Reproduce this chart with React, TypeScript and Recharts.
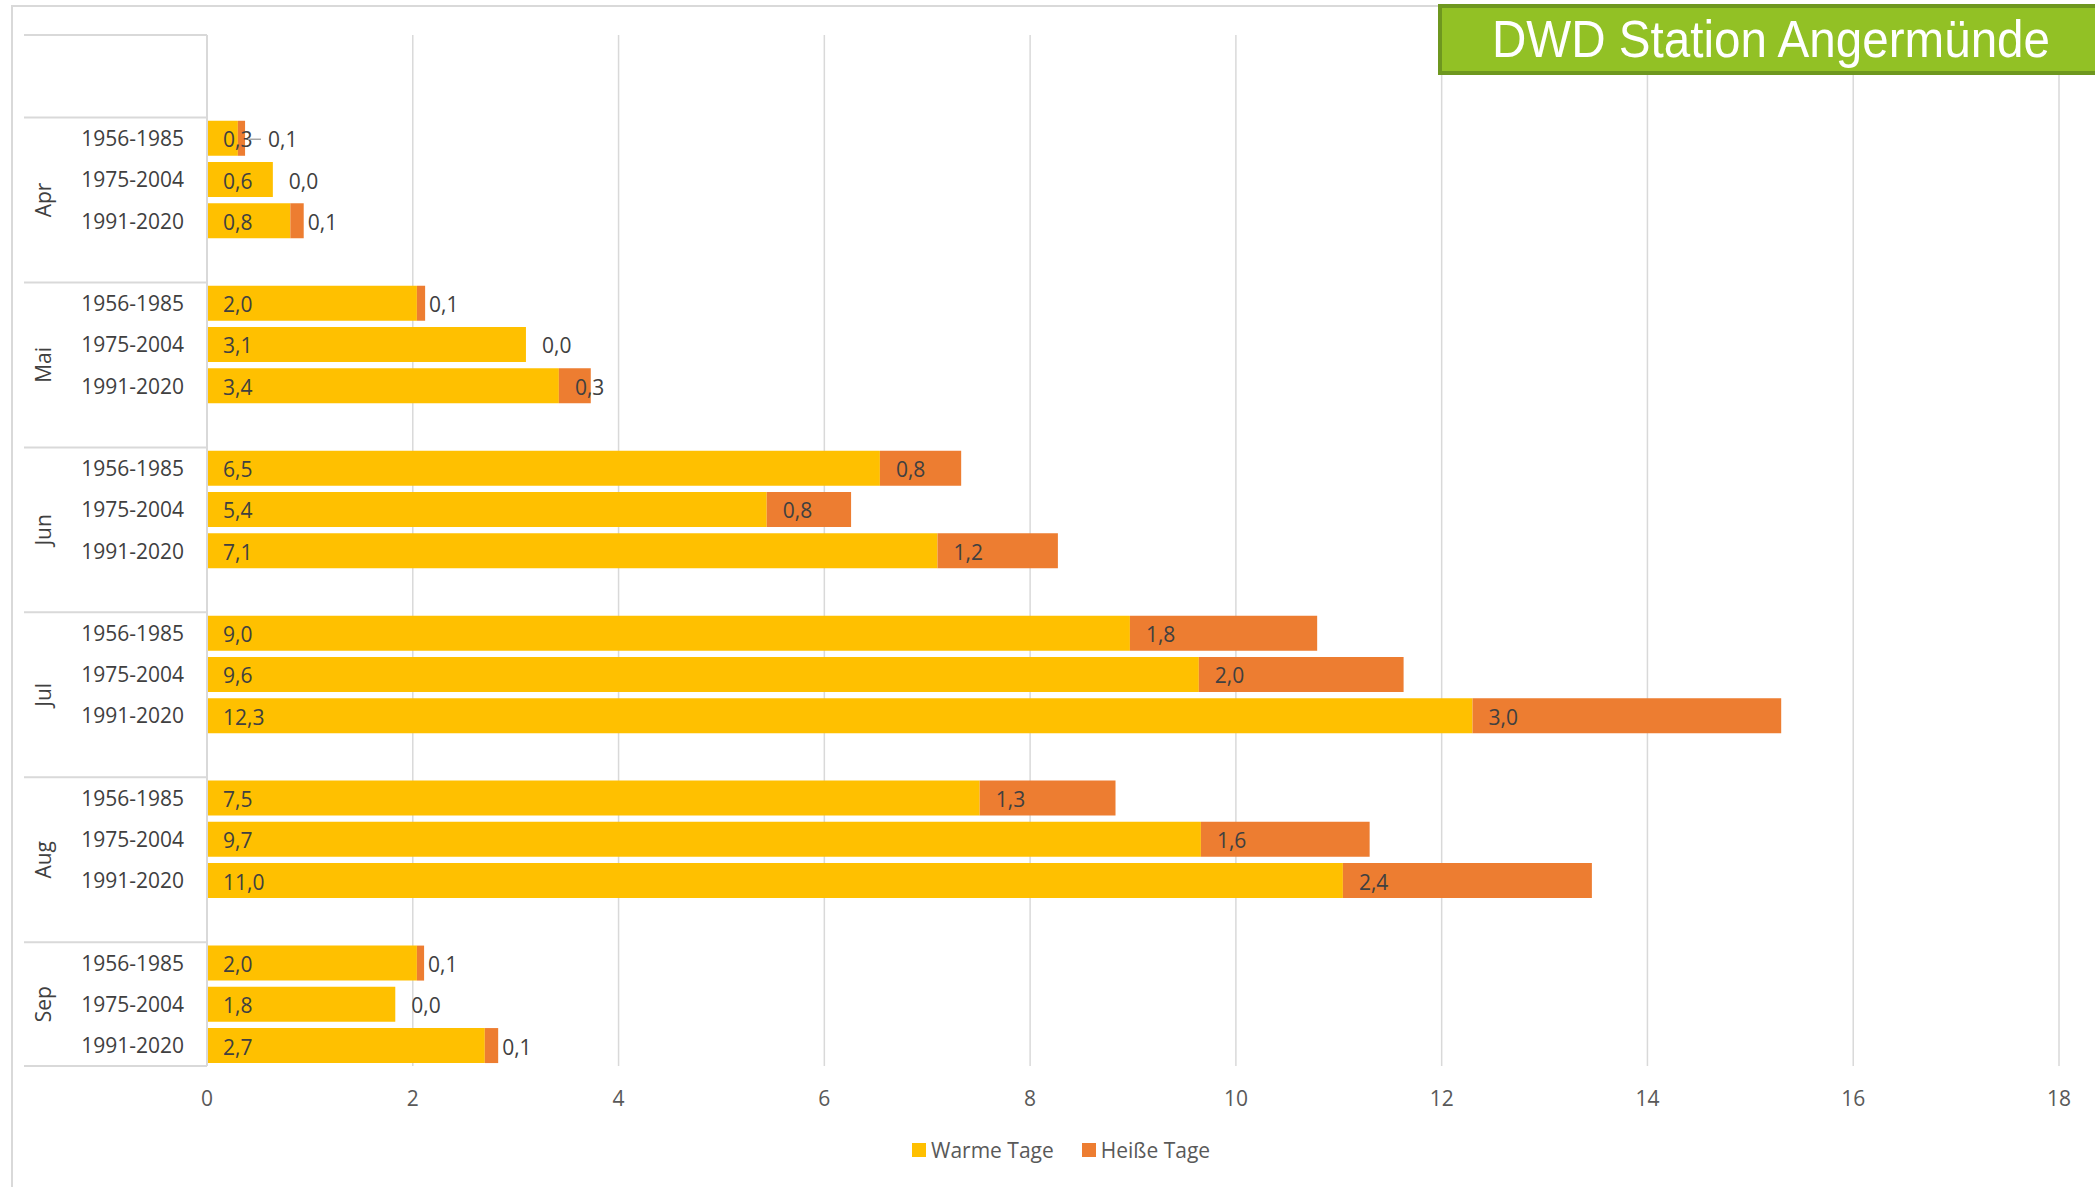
import { Bar, BarChart, CartesianGrid, LabelList, Legend, XAxis, YAxis } from 'recharts';

const months = ['Apr', 'Mai', 'Jun', 'Jul', 'Aug', 'Sep'];
const periods = ['1956-1985', '1975-2004', '1991-2020'];
// Tage je Monat, Reihenfolge wie periods
const warmeTage = [
  [0.3, 0.64, 0.81],
  [2.04, 3.1, 3.42],
  [6.54, 5.44, 7.1],
  [8.97, 9.64, 12.3],
  [7.51, 9.66, 11.04],
  [2.04, 1.83, 2.7],
];
const heisseTage = [
  [0.07, 0, 0.13],
  [0.08, 0, 0.31],
  [0.79, 0.82, 1.17],
  [1.82, 1.99, 3.0],
  [1.32, 1.64, 2.42],
  [0.07, 0, 0.13],
];
const xTicks = [0, 2, 4, 6, 8, 10, 12, 14, 16, 18];

const W = 2095;
const H = 1187;
const PLOT_LEFT = 207;
const PLOT_RIGHT = 2059;
const PLOT_TOP = 35;
const PLOT_BOTTOM = 1066;
const LABEL_LEFT = 24;
const FONT = '"Open Sans", sans-serif';
const TEXT = '#404040';
const GRID = '#d9d9d9';
const PX_PER_DAY = (PLOT_RIGHT - PLOT_LEFT) / 18;

type Row = {
  key: string;
  month?: string;
  period?: string;
  warm: number | null;
  hot: number | null;
  first?: boolean;
  span?: number;
};

const rows: Row[] = [
  { key: 'top-0', warm: null, hot: null },
  { key: 'top-1', warm: null, hot: null },
];
months.forEach((m, mi) => {
  periods.forEach((p, pi) => {
    rows.push({
      key: `${m}-${p}`,
      month: m,
      period: p,
      warm: warmeTage[mi][pi],
      hot: heisseTage[mi][pi],
      first: pi === 0,
      span: mi === months.length - 1 ? 3 : 4,
    });
  });
  if (mi < months.length - 1) rows.push({ key: `gap-${m}`, warm: null, hot: null });
});
const rowByKey = new Map(rows.map((r, i) => [r.key, { ...r, idx: i }]));
const ROW = (PLOT_BOTTOM - PLOT_TOP) / rows.length;

const fmt = (v: number) => v.toFixed(1).replace('.', ',');

function CategoryTick(props: any) {
  const { y, payload } = props;
  const row = rowByKey.get(payload.value);
  if (!row) return null;
  const top = y - ROW / 2;
  const mid = top + ((row.span ?? 3) * ROW) / 2;
  return (
    <g>
      {(row.idx === 0 || row.first) && (
        <line x1={LABEL_LEFT} x2={PLOT_LEFT} y1={top} y2={top} stroke={GRID} strokeWidth={2} />
      )}
      {row.idx === rows.length - 1 && (
        <line x1={LABEL_LEFT} x2={PLOT_LEFT} y1={y + ROW / 2} y2={y + ROW / 2} stroke={GRID} strokeWidth={2} />
      )}
      {row.period && (
        <text x={184} y={y} textAnchor="end" dominantBaseline="central" fontFamily={FONT} fontSize={21} fill={TEXT}>
          {row.period}
        </text>
      )}
      {row.first && (
        <text
          x={43}
          y={mid}
          transform={`rotate(-90 43 ${mid})`}
          textAnchor="middle"
          dominantBaseline="central"
          fontFamily={FONT}
          fontSize={21}
          fill={TEXT}
        >
          {row.month}
        </text>
      )}
    </g>
  );
}

function ValueTick(props: any) {
  const { x, payload } = props;
  return (
    <text x={x} y={1098} textAnchor="middle" dominantBaseline="central" fontFamily={FONT} fontSize={21} fill="#595959">
      {payload.value}
    </text>
  );
}

// draws both value labels of a row, placed from the warm bar geometry
function RowLabels(props: any) {
  const { x, y, width, height, value } = props;
  const row = rowByKey.get(value);
  if (!row || row.warm == null || row.hot == null) return null;
  const cy = y + height / 2 + 1;
  const warmText = fmt(row.warm);
  const warmLabelEnd = x + 16 + warmText.length * 10;
  const hotX = x + width;
  const hotW = row.hot * PX_PER_DAY;
  let lx = hotX + 16;
  let leader: [number, number] | null = null;
  if (hotW > 0.5 && hotW < 20) {
    lx = hotX + hotW + 4;
    if (lx < warmLabelEnd + 2) {
      leader = [hotX + hotW + 3, warmLabelEnd + 8];
      lx = warmLabelEnd + 15;
    }
  }
  return (
    <g>
      <text x={x + 16} y={cy} dominantBaseline="central" fontFamily={FONT} fontSize={21} fill={TEXT}>
        {warmText}
      </text>
      {leader && <line x1={leader[0]} x2={leader[1]} y1={cy} y2={cy} stroke="#a6a6a6" strokeWidth={1.5} />}
      <text x={lx} y={cy} dominantBaseline="central" fontFamily={FONT} fontSize={21} fill={TEXT}>
        {fmt(row.hot)}
      </text>
    </g>
  );
}

function LegendBox() {
  const item = (color: string, label: string) => (
    <div style={{ display: 'flex', alignItems: 'center', marginRight: 28 }}>
      <div style={{ width: 14, height: 14, background: color, marginRight: 5 }} />
      <span style={{ fontFamily: FONT, fontSize: 21, color: '#595959' }}>{label}</span>
    </div>
  );
  return (
    <div style={{ display: 'flex', paddingLeft: 912 }}>
      {item('#FFC000', 'Warme Tage')}
      {item('#ED7D31', 'Heiße Tage')}
    </div>
  );
}

export default function App() {
  return (
    <div style={{ position: 'relative', width: W, height: H, overflow: 'hidden', background: '#fff' }}>
      <style>{'body{margin:0;overflow:hidden}'}</style>
      <div
        style={{
          position: 'absolute',
          left: 11,
          top: 5,
          width: W,
          height: H,
          border: `2px solid ${GRID}`,
          boxSizing: 'border-box',
        }}
      />
      <div style={{ position: 'absolute', left: 0, top: 0 }}>
        <BarChart
          width={W}
          height={H}
          data={rows}
          layout="vertical"
          barCategoryGap="8%"
          margin={{ top: PLOT_TOP, right: W - PLOT_RIGHT, left: 11, bottom: H - PLOT_BOTTOM - 30 }}
        >
          <CartesianGrid horizontal={false} stroke={GRID} strokeWidth={1.5} />
          <XAxis
            type="number"
            domain={[0, 18]}
            ticks={xTicks}
            axisLine={false}
            tickLine={false}
            tick={<ValueTick />}
            height={30}
          />
          <YAxis
            type="category"
            dataKey="key"
            width={PLOT_LEFT - 11}
            interval={0}
            tickLine={false}
            axisLine={{ stroke: GRID, strokeWidth: 2 }}
            tick={<CategoryTick />}
          />
          <Legend
            layout="horizontal"
            verticalAlign="middle"
            align="center"
            wrapperStyle={{ top: 1136, left: 0, width: W }}
            content={<LegendBox />}
          />
          <Bar dataKey="warm" name="Warme Tage" stackId="a" fill="#FFC000" isAnimationActive={false}>
            <LabelList dataKey="key" content={<RowLabels />} />
          </Bar>
          <Bar dataKey="hot" name="Heiße Tage" stackId="a" fill="#ED7D31" isAnimationActive={false} />
        </BarChart>
      </div>
      <div
        style={{
          position: 'absolute',
          left: 1438,
          top: 4,
          width: 720,
          height: 71,
          background: '#92C125',
          border: '4px solid #6E971F',
          boxSizing: 'border-box',
          paddingLeft: 50,
          lineHeight: '63px',
          whiteSpace: 'nowrap',
        }}
      >
        <span
          style={{
            display: 'inline-block',
            fontFamily: '"Liberation Sans", Arial, sans-serif',
            fontSize: 52,
            color: '#fff',
            transform: 'scaleX(0.915)',
            transformOrigin: 'left center',
          }}
        >
          DWD Station Angermünde
        </span>
      </div>
    </div>
  );
}
